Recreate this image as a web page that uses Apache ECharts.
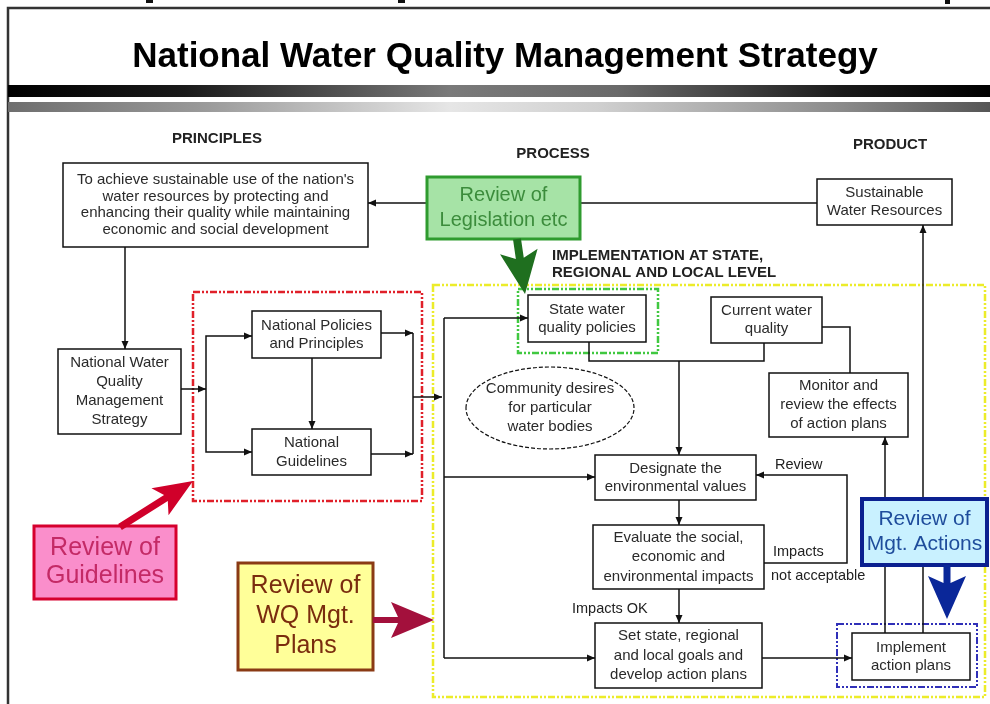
<!DOCTYPE html>
<html><head><meta charset="utf-8">
<script src="https://cdn.jsdelivr.net/npm/echarts@6/dist/echarts.min.js"></script>
<style>html,body{margin:0;padding:0;background:#fff}#c{width:990px;height:704px}</style>
</head><body><div id="c"></div><script>
// ---------- content ----------
const titleText = 'National Water Quality Management Strategy';
const columnHeadings = ['PRINCIPLES', 'PROCESS', 'PRODUCT'];
const implementationHeading = ['IMPLEMENTATION AT STATE,', 'REGIONAL AND LOCAL LEVEL'];
const stepNames = [
  ["To achieve sustainable use of the nation's", 'water resources by protecting and', 'enhancing their quality while maintaining', 'economic and social development'],
  ['National Water', 'Quality', 'Management', 'Strategy'],
  ['National Policies', 'and Principles'],
  ['National', 'Guidelines'],
  ['State water', 'quality policies'],
  ['Current water', 'quality'],
  ['Monitor and', 'review the effects', 'of action plans'],
  ['Designate the', 'environmental values'],
  ['Evaluate the social,', 'economic and', 'environmental impacts'],
  ['Set state, regional', 'and local goals and', 'develop action plans'],
  ['Implement', 'action plans'],
  ['Sustainable', 'Water Resources']
];
const ellipseText = ['Community desires', 'for particular', 'water bodies'];
const reviewNames = [
  ['Review of', 'Legislation etc'],
  ['Review of', 'Guidelines'],
  ['Review of', 'WQ Mgt.', 'Plans'],
  ['Review of', 'Mgt. Actions']
];
const flowLabels = ['Review', 'Impacts', 'not acceptable', 'Impacts OK'];

// ---------- layout (diagram units = axis units) ----------
const headingPos = [[217, 139], [553, 154], [890, 145]];
const implPos = [552, 256, 17];
const stepLayout = [ // x1,y1,x2,y2,lineHeight
  [63, 163, 368, 247, 16.5], [58, 349, 181, 434, 19], [252, 311, 381, 358, 18], [252, 429, 371, 475, 19],
  [528, 295, 646, 342, 18], [711, 297, 822, 343, 18], [769, 373, 908, 437, 19], [595, 455, 756, 500, 18],
  [593, 525, 764, 589, 19.5], [595, 623, 762, 688, 19.5], [852, 633, 970, 680, 18], [817, 179, 952, 225, 18]
];
const ellipseLayout = [550, 408, 84, 41, 19];
const reviewLayout = [ // x1,y1,x2,y2, fontSize, lineHeight
  [427, 177, 580, 239, 20, 25], [34, 526, 176, 599, 25, 28], [238, 563, 373, 670, 25, 30], [862, 499, 987, 565, 21, 25]
];
const reviewStyle = [
  {fill: '#a6e3a6', stroke: '#2f9b2f', text: '#3c8c3c', lw: 3},
  {fill: '#fa8ecb', stroke: '#d6002e', text: '#c42a66', lw: 3},
  {fill: '#ffff99', stroke: '#8a3a14', text: '#7a2c0e', lw: 3},
  {fill: '#c9f1ff', stroke: '#0b2090', text: '#1f4d9c', lw: 4}
];
const blockArrows = [ // start, tip, shaft, headW, headL, color
  [[517, 239], [525, 294], 8, 38, 36, '#1f6f1f'],
  [[120, 527], [193, 481], 7, 32, 32, '#d0002a'],
  [[373, 620], [434, 620], 6, 36, 36, '#a3103c'],
  [[947, 565], [947, 619], 7, 38, 36, '#0a2799']
];
const dottedRects = [
  [193, 292, 422, 501, '#e0202a', 2.5],
  [433, 285, 985, 697, '#ecec2a', 2.5],
  [518, 289, 658, 353, '#40c840', 2.5],
  [837, 624, 977, 687, '#3030b8', 2]
];
const connectors = [ // points, arrowAtEnd
  [[[817, 203], [368, 203]], 1],
  [[[125, 247], [125, 349]], 1],
  [[[181, 389], [206, 389]], 1],
  [[[206, 389], [206, 336], [252, 336]], 1],
  [[[206, 389], [206, 452], [252, 452]], 1],
  [[[312, 358], [312, 429]], 1],
  [[[381, 333], [413, 333]], 1],
  [[[371, 454], [413, 454]], 1],
  [[[413, 333], [413, 454]], 0],
  [[[413, 397], [442, 397]], 1],
  [[[444, 318], [444, 658]], 0],
  [[[444, 318], [528, 318]], 1],
  [[[444, 477], [595, 477]], 1],
  [[[444, 658], [595, 658]], 1],
  [[[589, 342], [589, 361], [764, 361], [764, 343]], 0],
  [[[679, 361], [679, 455]], 1],
  [[[822, 327], [850, 327], [850, 373]], 0],
  [[[679, 500], [679, 525]], 1],
  [[[679, 589], [679, 623]], 1],
  [[[764, 563], [847, 563], [847, 475], [756, 475]], 1],
  [[[762, 658], [852, 658]], 1],
  [[[885, 633], [885, 437]], 1],
  [[[923, 633], [923, 225]], 1]
];
const flowLabelPos = [[775, 465], [773, 552], [771, 576], [572, 609]];
const topFragments = [[146, 0, 153, 3], [398, 0, 405, 3], [945, 0, 950, 4]];

const FONT = '"Liberation Sans", Arial, sans-serif';
const BODY = 15;

// ---------- renderers ----------
function pt(api, p) { return api.coord(p); }

function renderFrame(params, api) {
  const a = pt(api, [8, 8]), b = pt(api, [990, 8]), c = pt(api, [8, 704]);
  const r1a = pt(api, [8, 85]), r1b = pt(api, [990, 97]);
  const r2a = pt(api, [8, 102]), r2b = pt(api, [990, 112]);
  const tp = pt(api, [505, 57]);
  const ch = [
    {type: 'polyline', shape: {points: [c, a, b]}, style: {stroke: '#333', lineWidth: 2.5, fill: null}},
    {type: 'rect', shape: {x: r1a[0], y: r1a[1], width: r1b[0] - r1a[0], height: r1b[1] - r1a[1]},
      style: {fill: new echarts.graphic.LinearGradient(0, 0, 1, 0, [
        {offset: 0, color: '#000'}, {offset: 0.18, color: '#1a1a1a'}, {offset: 0.45, color: '#7a7a7a'},
        {offset: 0.62, color: '#6a6a6a'}, {offset: 0.85, color: '#1a1a1a'}, {offset: 1, color: '#000'}])}},
    {type: 'rect', shape: {x: r2a[0], y: r2a[1], width: r2b[0] - r2a[0], height: r2b[1] - r2a[1]},
      style: {fill: new echarts.graphic.LinearGradient(0, 0, 1, 0, [
        {offset: 0, color: '#6e6e6e'}, {offset: 0.2, color: '#9a9a9a'}, {offset: 0.45, color: '#e6e6e6'},
        {offset: 0.6, color: '#d0d0d0'}, {offset: 0.85, color: '#8a8a8a'}, {offset: 1, color: '#555'}])}},
    {type: 'text', x: tp[0], y: tp[1], style: {text: titleText, fill: '#000', font: 'bold 35px ' + FONT, align: 'center', verticalAlign: 'middle'}}
  ];
  topFragments.forEach(f => {
    const p = pt(api, [f[0], f[1]]), q = pt(api, [f[2], f[3]]);
    ch.push({type: 'rect', shape: {x: p[0], y: p[1], width: q[0] - p[0], height: q[1] - p[1]}, style: {fill: '#111'}});
  });
  return {type: 'group', children: ch};
}

function renderHeadings(params, api) {
  const ch = columnHeadings.map((t, i) => {
    const p = pt(api, headingPos[i]);
    return {type: 'text', x: p[0], y: p[1], style: {text: t, fill: '#222', font: 'bold 15px ' + FONT, align: 'center', verticalAlign: 'middle'}};
  });
  const ip = pt(api, [implPos[0], implPos[1]]);
  ch.push({type: 'text', x: ip[0], y: ip[1] - implPos[2] / 2, style: {text: implementationHeading.join('\n'), fill: '#222', font: 'bold 15px ' + FONT, align: 'left', verticalAlign: 'top', lineHeight: implPos[2]}});
  flowLabels.forEach((t, i) => {
    const p = pt(api, flowLabelPos[i]);
    ch.push({type: 'text', x: p[0], y: p[1], style: {text: t, fill: '#222', font: '14.5px ' + FONT, align: 'left', verticalAlign: 'middle'}});
  });
  return {type: 'group', children: ch};
}

function arrowHead(p, q, len, wid) {
  const dx = q[0] - p[0], dy = q[1] - p[1], L = Math.hypot(dx, dy) || 1;
  const ux = dx / L, uy = dy / L, nx = -uy, ny = ux;
  const bx = q[0] - ux * len, by = q[1] - uy * len;
  return [[q[0], q[1]], [bx + nx * wid / 2, by + ny * wid / 2], [bx - nx * wid / 2, by - ny * wid / 2]];
}

function renderConnector(params, api) {
  const c = connectors[params.dataIndex];
  const pts = c[0].map(p => pt(api, p));
  const ch = [{type: 'polyline', shape: {points: pts}, style: {stroke: '#111', lineWidth: 1.5, fill: null}}];
  if (c[1]) {
    ch.push({type: 'polygon', shape: {points: arrowHead(pts[pts.length - 2], pts[pts.length - 1], 8, 7)}, style: {fill: '#111'}});
  }
  return {type: 'group', children: ch};
}

function renderDotted(params, api) {
  const d = dottedRects[params.dataIndex];
  const a = pt(api, [d[0], d[1]]), b = pt(api, [d[2], d[3]]);
  return {type: 'rect', shape: {x: a[0], y: a[1], width: b[0] - a[0], height: b[1] - a[1]},
    style: {fill: null, stroke: d[4], lineWidth: d[5], lineDash: [7, 2, 2, 2, 2, 2]}};
}

function renderStep(params, api) {
  const i = params.dataIndex, b = stepLayout[i];
  const a = pt(api, [b[0], b[1]]), c = pt(api, [b[2], b[3]]);
  return {type: 'group', children: [
    {type: 'rect', shape: {x: a[0], y: a[1], width: c[0] - a[0], height: c[1] - a[1]}, style: {fill: '#fff', stroke: '#111', lineWidth: 1.5}},
    {type: 'text', x: (a[0] + c[0]) / 2, y: (a[1] + c[1]) / 2, style: {text: stepNames[i].join('\n'), fill: '#2a2a2a', font: BODY + 'px ' + FONT, align: 'center', verticalAlign: 'middle', lineHeight: b[4]}}
  ]};
}

function renderEllipse(params, api) {
  const e = ellipseLayout, c = pt(api, [e[0], e[1]]);
  return {type: 'group', children: [
    {type: 'ellipse', shape: {cx: c[0], cy: c[1], rx: e[2], ry: e[3]}, style: {fill: '#fff', stroke: '#111', lineWidth: 1.2, lineDash: [4, 2]}},
    {type: 'text', x: c[0], y: c[1], style: {text: ellipseText.join('\n'), fill: '#2a2a2a', font: BODY + 'px ' + FONT, align: 'center', verticalAlign: 'middle', lineHeight: e[4]}}
  ]};
}

function renderReview(params, api) {
  const i = params.dataIndex, b = reviewLayout[i], s = reviewStyle[i];
  const a = pt(api, [b[0], b[1]]), c = pt(api, [b[2], b[3]]);
  return {type: 'group', children: [
    {type: 'rect', shape: {x: a[0], y: a[1], width: c[0] - a[0], height: c[1] - a[1]}, style: {fill: s.fill, stroke: s.stroke, lineWidth: s.lw}},
    {type: 'text', x: (a[0] + c[0]) / 2, y: (a[1] + c[1]) / 2, style: {text: reviewNames[i].join('\n'), fill: s.text, font: b[4] + 'px ' + FONT, align: 'center', verticalAlign: 'middle', lineHeight: b[5]}}
  ]};
}

function renderBlockArrow(params, api) {
  const d = blockArrows[params.dataIndex];
  const s = pt(api, d[0]), t = pt(api, d[1]);
  const sw = d[2], hw = d[3], hl = d[4], notch = 7;
  const dx = t[0] - s[0], dy = t[1] - s[1], L = Math.hypot(dx, dy);
  const ux = dx / L, uy = dy / L, nx = -uy, ny = ux;
  const bx = t[0] - ux * hl, by = t[1] - uy * hl;
  const wx = bx - ux * notch, wy = by - uy * notch;
  const poly = [
    [s[0] + nx * sw / 2, s[1] + ny * sw / 2], [bx + nx * sw / 2, by + ny * sw / 2], [wx + nx * hw / 2, wy + ny * hw / 2],
    [t[0], t[1]],
    [wx - nx * hw / 2, wy - ny * hw / 2], [bx - nx * sw / 2, by - ny * sw / 2], [s[0] - nx * sw / 2, s[1] - ny * sw / 2]
  ];
  return {type: 'polygon', shape: {points: poly}, style: {fill: d[5]}};
}

function series(name, data, fn, z) {
  return {type: 'custom', name, coordinateSystem: 'cartesian2d', data, renderItem: fn, silent: true, z, clip: false, animation: false};
}
const idx = arr => arr.map((_, i) => [i, 0]);

const chart = echarts.init(document.getElementById('c'), null, {renderer: 'canvas'});
chart.setOption({
  animation: false,
  backgroundColor: '#fff',
  grid: {left: 0, right: 0, top: 0, bottom: 0},
  xAxis: {type: 'value', min: 0, max: 990, show: false},
  yAxis: {type: 'value', min: 0, max: 704, inverse: true, show: false},
  series: [
    series('frame', [[0, 0]], renderFrame, 1),
    series('dotted', idx(dottedRects), renderDotted, 2),
    series('connectors', idx(connectors), renderConnector, 3),
    series('steps', idx(stepNames), renderStep, 4),
    series('ellipse', [[0, 0]], renderEllipse, 4),
    series('headings', [[0, 0]], renderHeadings, 5),
    series('reviews', idx(reviewNames), renderReview, 6),
    series('blockArrows', idx(blockArrows), renderBlockArrow, 7)
  ]
});
</script></body></html>
